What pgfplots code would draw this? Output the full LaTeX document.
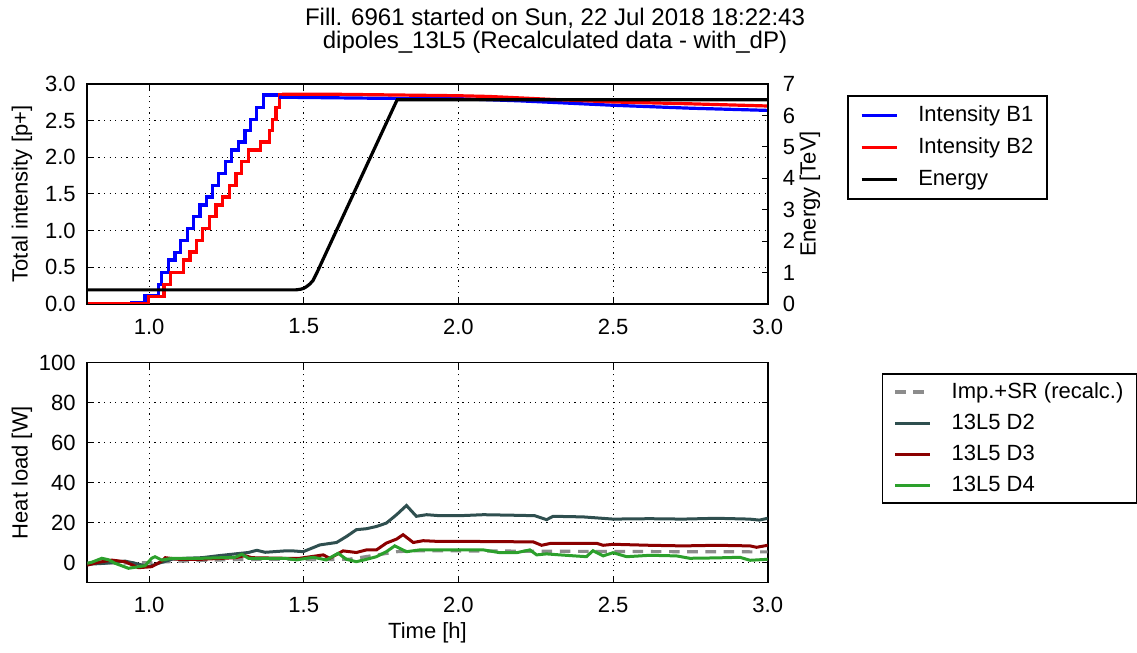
\documentclass[border=0pt]{standalone}
\usepackage{fontspec}
\setmainfont{Liberation Sans}
\usepackage{pgfplots}
\pgfplotsset{compat=1.18}
\definecolor{dslate}{RGB}{47,79,79}
\definecolor{dred}{RGB}{139,0,0}
\definecolor{fgreen}{RGB}{44,160,44}
\definecolor{bblue}{RGB}{0,0,255}
\definecolor{rred}{RGB}{255,0,0}
\definecolor{sgray}{RGB}{140,140,140}

\pgfplotsset{
  base/.style={
    scale only axis, width=340.2pt, anchor=south west,
    xmin=0.8, xmax=3.0,
    tick align=inside,
    major tick length=3pt,
    tick style={black, line width=0.5pt},
    axis line style={line width=0.8pt},
    grid style={black, dash pattern=on 0.6pt off 2.2pt, line width=0.5pt},
    /pgf/number format/assume math mode=true,
    ticklabel style={font=\fontsize{11}{13}\selectfont},
    label style={font=\fontsize{11}{13}\selectfont},
    legend cell align=left,
    legend image code/.code={\draw[##1] (0pt,0pt) -- (17.5pt,0pt);},
  },
  main/.style={
    base,
    xtick={1.0,1.5,2.0,2.5,3.0},
    xticklabel={\pgfmathprintnumber[fixed,fixed zerofill,precision=1]{\tick}},
    xticklabel style={yshift=-3.8pt},
    yticklabel style={xshift=-2.3pt},
    grid=major,
    ylabel style={at={(axis description cs:-0.096,0.5)},anchor=center},
  },
}

\begin{document}
\begin{tikzpicture}
\path[use as bounding box] (0,0) rectangle (568.5pt,326.5pt);

% ---------- top panel, intensity ----------
\begin{axis}[main,
  at={(43.65pt,174.5pt)}, height=110pt,
  ymin=0, ymax=3, ytick={0,0.5,1,1.5,2,2.5,3},
  yticklabel={\pgfmathprintnumber[fixed,fixed zerofill,precision=1]{\tick}},
  ytick pos=left,
  ylabel={Total intensity [p+]},
  legend style={at={(axis description cs:1.117,0.95)}, anchor=north west,
    draw=black, line width=0.8pt, font=\fontsize{11}{13}\selectfont,
    inner xsep=6pt, inner ysep=3.25pt, row sep=3pt, column sep=9pt,
    nodes={inner sep=1pt, text height=8.5pt, text depth=2.5pt}},
]
\addplot[bblue, line width=1.6pt, const plot mark left] coordinates {
(0.8,0.0) (0.9435,0.02) (0.9866,0.12) (1.0296,0.27) (1.0406,0.43) (1.062,0.60)
(1.0835,0.70) (1.102,0.87) (1.1246,1.03) (1.1427,1.19) (1.1644,1.35) (1.186,1.46)
(1.2042,1.62) (1.2236,1.78) (1.2474,1.94) (1.2669,2.10) (1.2882,2.21) (1.3099,2.37)
(1.3283,2.52) (1.3477,2.68) (1.369,2.85) (1.42,2.85)};
\addlegendentry{Intensity B1}
\addplot[rred, line width=1.6pt, const plot mark left] coordinates {
(0.8,0.0) (0.9972,0.10) (1.048,0.27) (1.0696,0.43) (1.1104,0.60) (1.132,0.71)
(1.1537,0.87) (1.1731,1.03) (1.1945,1.19) (1.2161,1.35) (1.2378,1.46) (1.2591,1.62)
(1.2808,1.78) (1.2992,1.94) (1.3205,2.10) (1.3606,2.21) (1.3884,2.37) (1.3994,2.52)
(1.4101,2.68) (1.4208,2.86) (1.43,2.86)};
\addlegendentry{Intensity B2}
\addplot[bblue, line width=1.6pt, forget plot] coordinates {
(1.42,2.82) (1.75,2.805) (2.0,2.80) (2.2,2.77) (2.5,2.71) (2.75,2.67) (3.0,2.64)};
\addplot[rred, line width=1.6pt, forget plot] coordinates {
(1.43,2.86) (1.6,2.86) (1.8,2.85) (2.0,2.84) (2.1,2.83) (2.3,2.79) (2.5,2.755) (2.75,2.73) (3.0,2.70)};
\addlegendimage{black, line width=1.6pt}
\addlegendentry{Energy}
\node[anchor=base west, font=\fontsize{11}{13}\selectfont] at (rel axis cs:0,1) [yshift=2pt] {1e14};
\end{axis}

% ---------- top panel, energy ----------
\begin{axis}[base,
  at={(43.65pt,174.5pt)}, height=110pt,
  hide x axis,
  ymin=0, ymax=7, ytick={0,1,2,3,4,5,6,7},
  ytick pos=right, yticklabel pos=right,
  yticklabel style={xshift=4pt},
  ylabel={Energy [TeV]},
  ylabel style={at={(axis description cs:1.062,0.5)},anchor=center},
]
\addplot[black, line width=1.6pt] coordinates {
(0.8,0.45) (1.475,0.45) (1.49,0.47) (1.50,0.50) (1.51,0.56) (1.52,0.64) (1.53,0.75)
(1.545,1.05) (1.56,1.37) (1.60,2.22) (1.70,4.34) (1.80,6.46) (1.802,6.5) (3.0,6.5)};
\end{axis}

% ---------- bottom panel ----------
\begin{axis}[main,
  at={(43.65pt,35.15pt)}, height=110pt,
  ymin=-10, ymax=100, ytick={0,20,40,60,80,100},
  ylabel={Heat load [W]},
  xlabel={Time [h]},
  xlabel style={at={(axis description cs:0.5,-0.227)},anchor=center},
  legend style={at={(axis description cs:1.1675,0.952)}, anchor=north west,
    draw=black, line width=0.8pt, font=\fontsize{11}{13}\selectfont,
    inner xsep=5.5pt, inner ysep=2.5pt, row sep=2.5pt, column sep=9pt,
    nodes={inner sep=1pt, text height=8.5pt, text depth=2.5pt}},
]
\addplot[sgray, line width=1.6pt, dash pattern=on 5.3pt off 3.8pt] coordinates {
(0.8,-0.3) (1.0,0.0) (1.1,0.8) (1.2,1.3) (1.3,1.6) (1.4,1.7) (1.6,1.6) (1.65,1.8)
(1.7,3.0) (1.75,4.2) (1.8,5.5) (1.85,5.9) (2.0,5.9) (2.5,5.6) (3.0,5.4)};
\addlegendentry{Imp.+SR (recalc.)}
\addplot[dslate, line width=1.5pt] coordinates {
(0.80,-0.8) (0.857,-0.3) (0.922,0.8) (0.955,-0.3) (0.998,-2.0) (1.041,0.2) (1.073,1.7)
(1.116,2.2) (1.170,2.5) (1.224,3.5) (1.278,4.4) (1.321,5.1) (1.348,6.2) (1.375,5.2)
(1.439,5.9) (1.465,5.9) (1.498,5.5) (1.552,8.9) (1.606,10.1) (1.638,13.1) (1.670,16.5)
(1.703,17.0) (1.735,18.1) (1.767,19.8) (1.800,24.0) (1.832,28.6) (1.864,23.2) (1.897,24.0)
(1.940,23.5) (2.004,23.5) (2.081,24.0) (2.188,23.7) (2.247,23.5) (2.285,21.5) (2.306,23.2)
(2.403,22.9) (2.500,21.8) (2.618,22.0) (2.726,21.8) (2.833,22.2) (2.941,21.8) (2.973,21.3) (3.0,22.2)};
\addlegendentry{13L5 D2}
\addplot[dred, line width=1.5pt] coordinates {
(0.80,-1.2) (0.836,0.2) (0.879,1.3) (0.922,0.5) (0.965,-2.5) (1.008,-2.0) (1.041,0.8)
(1.052,2.5) (1.095,1.7) (1.170,1.7) (1.278,2.5) (1.310,3.5) (1.332,2.5) (1.439,2.2)
(1.487,2.2) (1.563,3.9) (1.584,2.2) (1.627,5.9) (1.670,5.1) (1.703,6.4) (1.735,6.4)
(1.767,9.8) (1.800,11.8) (1.821,14.0) (1.854,10.1) (1.886,11.0) (1.940,10.6) (2.069,10.6)
(2.242,10.4) (2.269,8.7) (2.296,9.6) (2.447,9.7) (2.468,8.7) (2.5,9.2) (2.619,8.7)
(2.727,8.4) (2.835,8.7) (2.943,8.4) (2.964,7.7) (3.0,8.7)};
\addlegendentry{13L5 D3}
\addplot[fgreen, line width=1.5pt] coordinates {
(0.80,-0.3) (0.814,0.2) (0.847,2.2) (0.868,1.5) (0.890,-0.3) (0.933,-2.8) (0.987,-1.5)
(1.008,2.2) (1.019,3.0) (1.041,1.3) (1.073,2.2) (1.170,2.2) (1.278,2.7) (1.300,4.2)
(1.321,2.2) (1.439,2.2) (1.476,1.4) (1.530,2.7) (1.573,1.4) (1.611,4.7) (1.638,1.7)
(1.670,0.5) (1.703,1.7) (1.735,3.0) (1.767,5.5) (1.794,8.4) (1.832,5.5) (1.875,6.4)
(2.081,6.4) (2.134,5.0) (2.188,5.0) (2.231,6.4) (2.253,3.9) (2.285,4.4) (2.328,3.9)
(2.414,3.0) (2.435,6.0) (2.468,3.4) (2.5,5.0) (2.544,3.0) (2.619,3.7) (2.705,3.4)
(2.748,2.2) (2.835,2.4) (2.910,2.7) (2.943,1.2) (3.0,1.7)};
\addlegendentry{13L5 D4}
\end{axis}

% ---------- title ----------
\node[anchor=base, font=\fontsize{12}{14}\selectfont] at (277.5pt,313.5pt) {Fill. 6961 started on Sun, 22 Jul 2018 18:22:43};
\node[anchor=base, font=\fontsize{12}{14}\selectfont] at (277.5pt,302pt) {dipoles\_13L5 (Recalculated data - with\_dP)};
\end{tikzpicture}
\end{document}
